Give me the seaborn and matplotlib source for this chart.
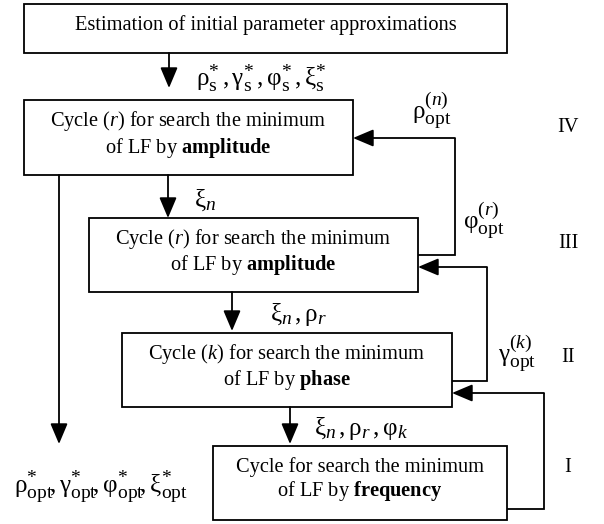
import matplotlib
matplotlib.use("Agg")
import matplotlib.pyplot as plt
from matplotlib.patches import Rectangle
import matplotlib._mathtext as _mt
import seaborn as sns

# ---- content ----
box_texts = [
    "Estimation of initial parameter approximations",
    "Cycle ($r$) for search the minimum\nof LF by $\\mathbf{amplitude}$",
    "Cycle ($r$) for search the minimum\nof LF by $\\mathbf{amplitude}$",
    "Cycle ($k$) for search the minimum\nof LF by $\\mathbf{phase}$",
    "Cycle for search the minimum\nof LF by $\\mathbf{frequency}$",
]
flow_labels = [
    r"$\mathrm{ρ}_{\mathrm{s}}^{*}\,,\mathrm{γ}_{\mathrm{s}}^{*}\,,\mathrm{φ}_{\mathrm{s}}^{*}\,,\mathrm{ξ}_{\mathrm{s}}^{*}$",
    r"$\mathrm{ξ}_{n}$",
    r"$\mathrm{ξ}_{n}\,,\mathrm{ρ}_{r}$",
    r"$\mathrm{ξ}_{n}\,,\mathrm{ρ}_{r}\,,\mathrm{φ}_{k}$",
]
feedback_labels = [
    r"$\mathrm{ρ}_{\mathrm{opt}}^{(n)}$",
    r"$\mathrm{φ}_{\mathrm{opt}}^{(r)}$",
    r"$\mathrm{γ}_{\mathrm{opt}}^{(k)}$",
]
level_labels = ["IV", "III", "II", "I"]
result_label = r"$\mathrm{ρ}_{\mathrm{opt}}^{*}\!,\mathrm{γ}_{\mathrm{opt}}^{*}\!,\mathrm{φ}_{\mathrm{opt}}^{*}\!,\mathrm{ξ}_{\mathrm{opt}}^{*}$"

# ---- style ----
sns.set_theme(style="white")
plt.rcParams["font.family"] = ["Liberation Serif", "DejaVu Serif"]
plt.rcParams["mathtext.fontset"] = "custom"
plt.rcParams["mathtext.rm"] = "Liberation Serif"
plt.rcParams["mathtext.it"] = "Liberation Serif:italic"
plt.rcParams["mathtext.bf"] = "Liberation Serif:bold"
plt.rcParams["mathtext.sf"] = "Liberation Serif"
try:
    _mt.SHRINK_FACTOR = 0.78
except Exception:
    pass

fig = plt.figure(figsize=(6.04, 5.24), dpi=100)
fig.patch.set_facecolor("white")
ax = fig.add_axes([0, 0, 1, 1])
ax.set_xlim(0, 604)
ax.set_ylim(524, 0)
ax.axis("off")

LW = 1.3
FS = 14.7
LFS = 18

# boxes: (x0, y0, x1, y1)
boxes = [(24, 4, 507, 53), (24, 100, 353, 175), (89, 218, 418, 292),
         (122, 333, 452, 407), (213, 446, 507, 520)]
for (x0, y0, x1, y1), t in zip(boxes, box_texts):
    ax.add_patch(Rectangle((x0, y0), x1 - x0, y1 - y0, fill=False,
                           edgecolor="black", lw=LW, zorder=2))
    ax.text((x0 + x1) / 2, (y0 + y1) / 2 - 3, t, ha="center", va="center",
            fontsize=FS, linespacing=1.15, color="black")

ap = dict(arrowstyle="-|>,head_length=0.9,head_width=0.38", color="black",
          lw=LW, shrinkA=0, shrinkB=0, mutation_scale=14)


def arrow(x0, y0, x1, y1):
    ax.annotate("", xy=(x1, y1), xytext=(x0, y0), arrowprops=ap)


def line(xs, ys):
    ax.plot(xs, ys, color="black", lw=LW, solid_capstyle="butt",
            solid_joinstyle="miter")


# downward arrows
arrow(169, 53, 169, 88)
arrow(168, 175, 168, 218)
arrow(232, 292, 232, 331)
arrow(290, 407, 290, 444)
arrow(59, 175, 59, 444)

# feedback loops
line([418, 455, 455], [255, 255, 138])
arrow(455, 138, 353, 138)
line([452, 487, 487], [381, 381, 267])
arrow(487, 267, 418, 267)
line([507, 544, 544], [509, 509, 393])
arrow(544, 393, 452, 393)

# flow labels
for (x, y), t in zip([(196, 78), (194, 200), (270, 315), (314, 428)], flow_labels):
    ax.text(x, y, t, ha="left", va="center", fontsize=LFS, color="black")

for (x, y), t in zip([(432, 110), (484, 220), (517, 353)], feedback_labels):
    ax.text(x, y, t, ha="center", va="center", fontsize=LFS, color="black")

for y, t in zip([128, 243, 357, 467], level_labels):
    ax.text(568, y, t, ha="center", va="center", fontsize=FS, color="black")

ax.text(14, 487, result_label, ha="left", va="center", fontsize=LFS, color="black")

fig.savefig("out.png", dpi=100, facecolor="white")
